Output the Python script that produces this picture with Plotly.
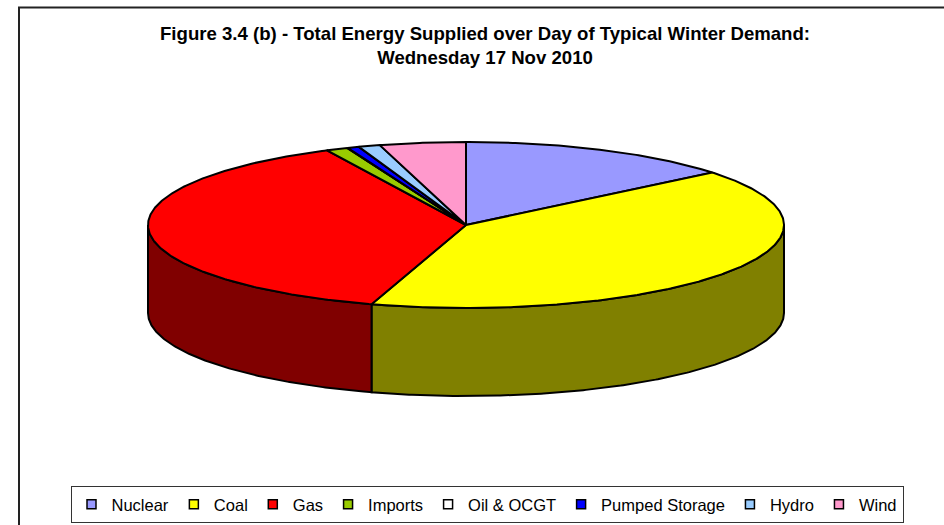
import numpy as np
import plotly.graph_objects as go

categories = ["Nuclear", "Coal", "Gas", "Imports", "Oil & OCGT", "Pumped Storage", "Hydro", "Wind"]
values = [14.1, 40.7, 38.0, 1.1, 0.03, 0.6, 1.1, 4.37]
top_colors = ["#9999FF", "#FFFF00", "#FF0000", "#99CC00", "#FFFFFF", "#0000FF", "#99CCFF", "#FF99CC"]
side_colors = ["#4C4C80", "#808000", "#800000", "#4C6600", "#808080", "#000080", "#4C6680", "#804C66"]
title_text = ("<b>Figure 3.4 (b) - Total Energy Supplied over Day of Typical Winter Demand:<br>"
              "Wednesday 17 Nov 2010</b>")

W, H = 944, 525
CX, CY, RX, RY = 466, 225, 318, 83
DEPTH = 88 / RY  # wall height in pie-radius units

fig = go.Figure()
shares = np.array(values) / sum(values) * 360
edges = np.concatenate([[0], np.cumsum(shares)])


def arc(a, b):
    t = np.radians(np.linspace(a, b, max(2, int(abs(b - a) * 2) + 2)))
    return np.sin(t), np.cos(t)


# walls: only the front half of the rim is visible
for i in range(len(values)):
    a, b = max(edges[i], 90), min(edges[i + 1], 270)
    if b <= a:
        continue
    x, y = arc(a, b)
    fig.add_trace(go.Scatter(
        x=np.concatenate([x, x[::-1], x[:1]]),
        y=np.concatenate([y, y[::-1] - DEPTH, y[:1]]),
        mode="lines", fill="toself", fillcolor=side_colors[i],
        line=dict(color="black", width=2), showlegend=False, hoverinfo="skip"))

# top faces
for i in range(len(values)):
    x, y = arc(edges[i], edges[i + 1])
    fig.add_trace(go.Scatter(
        x=np.concatenate([[0], x, [0]]),
        y=np.concatenate([[0], y, [0]]),
        mode="lines", fill="toself", fillcolor=top_colors[i],
        line=dict(color="black", width=2), showlegend=False,
        name=categories[i], hoverinfo="name"))

# legend entries
for name, col in zip(categories, top_colors):
    fig.add_trace(go.Scatter(
        x=[None], y=[None], mode="markers", name=name,
        marker=dict(symbol="square", size=9, color=col, line=dict(color="black", width=1.5))))

fig.update_layout(
    width=W, height=H,
    margin=dict(l=0, r=0, t=0, b=0),
    paper_bgcolor="white", plot_bgcolor="white",
    font=dict(family="Liberation Sans, Arial, sans-serif", color="black"),
    xaxis=dict(range=[-CX / RX, (W - CX) / RX], visible=False, fixedrange=True),
    yaxis=dict(range=[-(H - CY) / RY, CY / RY], visible=False, fixedrange=True),
    annotations=[dict(text=title_text, xref="paper", yref="paper", x=485 / W, y=1 - 46 / H,
                      xanchor="center", yanchor="middle", showarrow=False,
                      font=dict(size=18.6, color="black"), align="center")],
    shapes=[dict(type="rect", xref="paper", yref="paper", x0=19 / W, y0=-0.1, x1=1.1, y1=1 - 7.5 / H,
                 line=dict(color="#222222", width=2), layer="below")],
    legend=dict(orientation="h", x=487 / W, y=1 - 504.5 / H, xanchor="center", yanchor="middle",
                bgcolor="white", bordercolor="#333333", borderwidth=1,
                font=dict(size=16.5, color="black"), itemwidth=30, traceorder="normal"),
)
fig.write_html("out.html", config={"displayModeBar": False},
               post_script="document.body.style.margin='0';document.documentElement.style.overflow='hidden';")
